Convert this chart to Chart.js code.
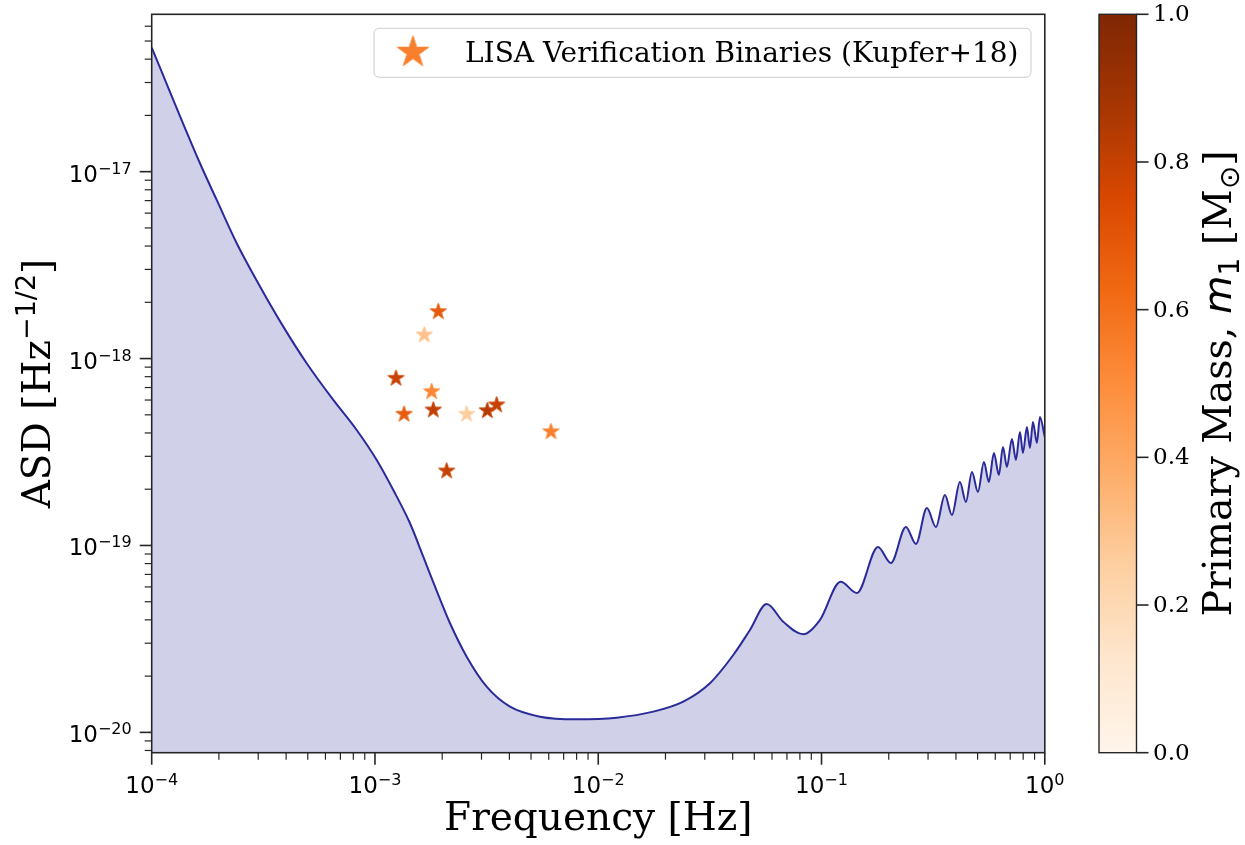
<!DOCTYPE html>
<html>
<head>
<meta charset="utf-8">
<title>LISA sensitivity and verification binaries</title>
<script src="https://cdn.jsdelivr.net/npm/chart.js@4.4.1/dist/chart.umd.min.js"></script>
<style>
  html, body { margin: 0; padding: 0; background: #fff; }
  canvas { display: block; }
</style>
</head>
<body>
<canvas id="asdChart" width="1245" height="845"></canvas>
<script>
// sensitivity curve, sampled along the line (Hz, Hz^-1/2)
const freq = [
  1.0e-4, 1.645e-4, 1.955e-4, 2.403e-4, 3.055e-4, 3.885e-4, 4.944e-4, 6.506e-4, 8.28e-4, 1.018e-3,
  1.208e-3, 1.435e-3, 1.646e-3, 1.89e-3, 2.168e-3, 2.575e-3, 3.164e-3, 4.024e-3, 5.48e-3, 8.0e-3,
  1.209e-2, 1.763e-2, 2.403e-2, 3.164e-2, 4.024e-2, 4.78e-2, 5.68e-2, 6.74e-2, 8.28e-2, 9.83e-2,
  0.1218, 0.144, 0.179, 0.2045, 0.2388, 0.2647, 0.2965, 0.3253, 0.357, 0.3837,
  0.4167, 0.4433, 0.4717, 0.5018, 0.5338, 0.5619, 0.5916, 0.6229, 0.6494, 0.6766,
  0.7124, 0.7425, 0.7737, 0.798, 0.8317, 0.8578, 0.8848, 0.9219, 0.9508, 1.0
];
const asd = [
  4.61e-17, 1.109e-17, 7.06e-18, 4.14e-18, 2.43e-18, 1.482e-18, 9.44e-19, 6.005e-19, 4.15e-19, 2.867e-19,
  1.98e-19, 1.315e-19, 8.71e-20, 5.71e-20, 3.835e-20, 2.54e-20, 1.756e-20, 1.372e-20, 1.213e-20, 1.175e-20,
  1.199e-20, 1.291e-20, 1.46e-20, 1.832e-20, 2.594e-20, 3.53e-20, 4.86e-20, 3.91e-20, 3.35e-20, 3.99e-20,
  6.4e-20, 5.57e-20, 9.82e-20, 8.06e-20, 1.256e-19, 1.019e-19, 1.587e-19, 1.256e-19, 1.863e-19, 1.456e-19,
  2.187e-19, 1.709e-19, 2.473e-19, 1.933e-19, 2.797e-19, 2.187e-19, 3.125e-19, 2.383e-19, 3.365e-19, 2.63e-19,
  3.713e-19, 2.867e-19, 4.05e-19, 3.125e-19, 4.305e-19, 3.323e-19, 4.58e-19, 3.535e-19, 4.87e-19, 3.81e-19
];

// verification binaries: GW frequency, ASD, primary mass (Msun)
const vbFreq = [1.921e-3, 1.663e-3, 1.242e-3, 1.794e-3, 1.349e-3, 1.824e-3, 2.575e-3, 3.184e-3, 3.508e-3, 6.14e-3, 2.095e-3];
const vbAsd  = [1.782e-18, 1.337e-18, 7.84e-19, 6.65e-19, 5.04e-19, 5.31e-19, 5.04e-19, 5.26e-19, 5.65e-19, 4.06e-19, 2.504e-19];
const vbMass = [0.68, 0.30, 0.79, 0.52, 0.67, 0.81, 0.26, 0.83, 0.80, 0.55, 0.80];

const xTickExps = [-4, -3, -2, -1, 0];
const yTickExps = [-20, -19, -18, -17];
const massTicks = [0.0, 0.2, 0.4, 0.6, 0.8, 1.0];

const SERIF = '"DejaVu Serif", serif';
const SANS = '"DejaVu Sans", sans-serif';
const INK = '#262626';

// matplotlib "Oranges"
const ORANGES = ['#fff5eb', '#fee6ce', '#fdd0a2', '#fdae6b', '#fd8d3c', '#f16913', '#d94801', '#a63603', '#7f2704'];

function hexToRgb(h) {
  const n = parseInt(h.slice(1), 16);
  return [(n >> 16) & 255, (n >> 8) & 255, n & 255];
}

function oranges(v) {
  const p = Math.min(1, Math.max(0, v)) * (ORANGES.length - 1);
  const i = Math.min(ORANGES.length - 2, Math.floor(p));
  const t = p - i;
  const a = hexToRgb(ORANGES[i]);
  const b = hexToRgb(ORANGES[i + 1]);
  const c = a.map((ch, k) => Math.round(ch + (b[k] - ch) * t));
  return `rgb(${c[0]},${c[1]},${c[2]})`;
}

// filled five-point star, same shape as the matplotlib '*' marker
function starImage(color, r) {
  const s = Math.ceil(r * 2 + 4);
  const c = document.createElement('canvas');
  c.width = s;
  c.height = s;
  const g = c.getContext('2d');
  g.translate(s / 2, s / 2);
  g.beginPath();
  for (let k = 0; k < 10; k++) {
    const ang = -Math.PI / 2 + k * Math.PI / 5;
    const rr = k % 2 ? r * 0.381966 : r;
    g.lineTo(rr * Math.cos(ang), rr * Math.sin(ang));
  }
  g.closePath();
  g.fillStyle = color;
  g.fill();
  g.lineWidth = 1;
  g.strokeStyle = color;
  g.stroke();
  return c;
}

const starImgs = vbMass.map((m) => starImage(oranges(m), 8.5));
const legendStar = starImage(oranges(0.55), 16.5);

function runsWidth(ctx, runs) {
  let w = 0;
  for (const r of runs) {
    ctx.font = r.font;
    w += ctx.measureText(r.t).width;
  }
  return w;
}

function drawRuns(ctx, runs, x0, y0) {
  let x = x0;
  ctx.textAlign = 'left';
  ctx.textBaseline = 'alphabetic';
  for (const r of runs) {
    ctx.font = r.font;
    ctx.fillText(r.t, x, y0 + (r.dy || 0));
    x += ctx.measureText(r.t).width;
  }
}

function powRuns(e) {
  const ex = e < 0 ? '\u2212' + Math.abs(e) : String(e);
  return [
    { t: '10', font: `23px ${SANS}` },
    { t: ex, font: `16px ${SANS}`, dy: -8 },
  ];
}

const decor = {
  id: 'decor',
  afterDraw(chart) {
    const { ctx, chartArea: a, scales } = chart;
    const { x, y, m } = scales;
    ctx.save();
    ctx.fillStyle = '#000';
    ctx.strokeStyle = INK;

    // minor + major ticks, drawn outward
    const tick = (x1, y1, x2, y2, lw) => {
      ctx.lineWidth = lw;
      ctx.beginPath();
      ctx.moveTo(x1, y1);
      ctx.lineTo(x2, y2);
      ctx.stroke();
    };
    for (let d = -4; d < 0; d++) {
      for (let k = 2; k <= 9; k++) {
        const px = x.getPixelForValue(k * Math.pow(10, d));
        tick(px, a.bottom, px, a.bottom + 7, 1.2);
      }
    }
    for (let d = -21; d <= -17; d++) {
      for (let k = 2; k <= 9; k++) {
        const v = k * Math.pow(10, d);
        if (v < y.min || v > y.max) continue;
        const py = y.getPixelForValue(v);
        tick(a.left, py, a.left - 7, py, 1.2);
      }
    }
    xTickExps.forEach((e) => {
      const px = x.getPixelForValue(Math.pow(10, e));
      tick(px, a.bottom, px, a.bottom + 12, 1.6);
      const runs = powRuns(e);
      drawRuns(ctx, runs, px - runsWidth(ctx, runs) / 2, a.bottom + 40);
    });
    yTickExps.forEach((e) => {
      const py = y.getPixelForValue(Math.pow(10, e));
      tick(a.left, py, a.left - 12, py, 1.6);
      const runs = powRuns(e);
      drawRuns(ctx, runs, a.left - 20 - runsWidth(ctx, runs), py + 10);
    });

    // frame
    ctx.lineWidth = 1.6;
    ctx.strokeRect(a.left, a.top, a.right - a.left, a.bottom - a.top);

    // axis titles
    const xl = [{ t: 'Frequency [Hz]', font: `39px ${SERIF}` }];
    drawRuns(ctx, xl, (a.left + a.right) / 2 - runsWidth(ctx, xl) / 2, 830);

    const yl = [
      { t: 'ASD [Hz', font: `39px ${SERIF}` },
      { t: '\u22121/2', font: `27px ${SANS}`, dy: -15 },
      { t: ']', font: `39px ${SERIF}` },
    ];
    ctx.save();
    ctx.translate(50, (a.top + a.bottom) / 2);
    ctx.rotate(-Math.PI / 2);
    drawRuns(ctx, yl, -runsWidth(ctx, yl) / 2, 0);
    ctx.restore();

    // legend
    const lx = 374, ly = 28.3, lw = 657, lh = 49;
    ctx.beginPath();
    ctx.roundRect(lx, ly, lw, lh, 5);
    ctx.fillStyle = 'rgba(255,255,255,0.8)';
    ctx.fill();
    ctx.lineWidth = 1;
    ctx.strokeStyle = '#cccccc';
    ctx.stroke();
    ctx.drawImage(legendStar, 413 - legendStar.width / 2, 52.3 - legendStar.height / 2);
    ctx.fillStyle = '#000';
    drawRuns(ctx, [{ t: 'LISA Verification Binaries (Kupfer+18)', font: `28px ${SERIF}` }], 465, 62);

    // colorbar, sharing the vertical extent of the axes
    const cx0 = 1099, cx1 = 1136.5;
    const ctop = m.getPixelForValue(1), cbot = m.getPixelForValue(0);
    const grad = ctx.createLinearGradient(0, cbot, 0, ctop);
    ORANGES.forEach((c, i) => grad.addColorStop(i / (ORANGES.length - 1), c));
    ctx.fillStyle = grad;
    ctx.fillRect(cx0, ctop, cx1 - cx0, cbot - ctop);
    ctx.strokeStyle = INK;
    ctx.lineWidth = 1.4;
    ctx.strokeRect(cx0, ctop, cx1 - cx0, cbot - ctop);
    ctx.fillStyle = '#000';
    massTicks.forEach((v) => {
      const py = m.getPixelForValue(v);
      tick(cx1, py, cx1 + 12, py, 1.6);
      ctx.font = `23px ${SERIF}`;
      ctx.textAlign = 'left';
      ctx.textBaseline = 'middle';
      ctx.fillText(v.toFixed(1), 1153, py + 1);
    });

    const cl = [
      { t: 'Primary Mass, ', font: `39.5px ${SERIF}` },
      { t: 'm', font: `italic 39.5px ${SANS}` },
      { t: '1', font: `28px ${SANS}`, dy: 8 },
      { t: ' [M', font: `39.5px ${SERIF}` },
      { t: '\u2299', font: `28px ${SANS}`, dy: 8 },
      { t: ']', font: `39.5px ${SERIF}` },
    ];
    ctx.save();
    ctx.translate(1230.7, (ctop + cbot) / 2);
    ctx.rotate(-Math.PI / 2);
    drawRuns(ctx, cl, -runsWidth(ctx, cl) / 2, 0);
    ctx.restore();

    ctx.restore();
  },
};

new Chart(document.getElementById('asdChart'), {
  type: 'line',
  data: {
    datasets: [
      {
        type: 'scatter',
        label: 'LISA Verification Binaries (Kupfer+18)',
        data: vbFreq.map((f, i) => ({ x: f, y: vbAsd[i] })),
        pointStyle: (c) => starImgs[c.dataIndex],
        pointRadius: 9,
        pointHoverRadius: 9,
        xAxisID: 'x',
        yAxisID: 'y',
        order: 0,
      },
      {
        label: 'ASD',
        data: freq.map((f, i) => ({ x: f, y: asd[i] })),
        borderColor: '#2b2a9a',
        borderWidth: 2,
        backgroundColor: 'rgba(0,0,128,0.185)',
        fill: 'start',
        pointRadius: 0,
        cubicInterpolationMode: 'monotone',
        xAxisID: 'x',
        yAxisID: 'y',
        order: 1,
      },
    ],
  },
  options: {
    responsive: false,
    animation: false,
    devicePixelRatio: 1,
    events: [],
    layout: { padding: { left: 151.7, top: 14.3, right: 200.2, bottom: 92.3 } },
    plugins: { legend: { display: false }, tooltip: { enabled: false } },
    scales: {
      x: {
        type: 'logarithmic',
        min: 1e-4,
        max: 1,
        ticks: { display: false },
        grid: { display: false },
        border: { display: false },
        afterFit: (s) => { s.height = 0; },
      },
      y: {
        type: 'logarithmic',
        min: 7.785e-21,
        max: 6.95e-17,
        ticks: { display: false },
        grid: { display: false },
        border: { display: false },
        afterFit: (s) => { s.width = 0; },
      },
      m: {
        type: 'linear',
        position: 'right',
        min: 0,
        max: 1,
        ticks: { display: false },
        grid: { display: false },
        border: { display: false },
        afterFit: (s) => { s.width = 0; },
      },
    },
  },
  plugins: [decor],
});
</script>
</body>
</html>
